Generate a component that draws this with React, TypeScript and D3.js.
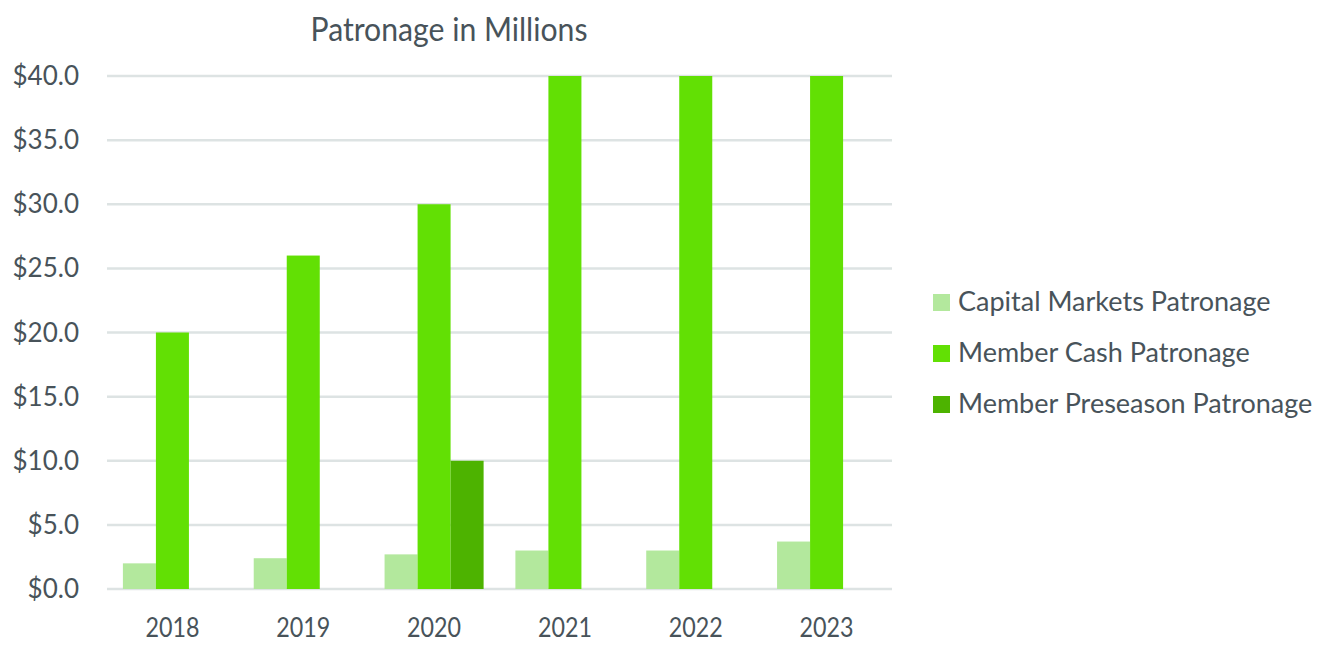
import React from "react";
import * as d3 from "d3";

const years = ["2018", "2019", "2020", "2021", "2022", "2023"];
const capitalMarkets = [2.0, 2.4, 2.7, 3.0, 3.0, 3.7];
const memberCash = [20, 26, 30, 40, 40, 40];
const memberPreseason = [0, 0, 10, 0, 0, 0];
const seriesNames = ["Capital Markets Patronage", "Member Cash Patronage", "Member Preseason Patronage"];
const seriesColors = ["#b3e89d", "#62e004", "#4db300"];
const yTicks = [0, 5, 10, 15, 20, 25, 30, 35, 40];

const W = 1329;
const H = 655;
const left = 107;
const right = 892;
const top = 76;
const bottom = 589;
const textColor = "#48535a";
const font = "Lato, 'Open Sans', sans-serif";

export default function App() {
  const x = d3.scaleBand<string>().domain(years).range([left, right]).paddingInner(0.243).paddingOuter(0.1215);
  const sub = d3.scaleBand<number>().domain([0, 1, 2]).range([0, x.bandwidth()]);
  const y = d3.scaleLinear().domain([0, 40]).range([bottom, top]);
  const all = [capitalMarkets, memberCash, memberPreseason];

  return (
    <svg width={W} height={H} style={{ position: "absolute", left: 0, top: 0, background: "#fff" }}>
      <text x={449} y={41} textAnchor="middle" fontFamily={font} fontSize={32} fill={textColor}
        textLength={277} lengthAdjust="spacingAndGlyphs">Patronage in Millions</text>
      {yTicks.map((t) => (
        <g key={t}>
          <line x1={left} x2={right} y1={y(t)} y2={y(t)} stroke="#dde3e3" strokeWidth={2.5} />
          <text x={79} y={y(t) + 9} textAnchor="end" fontFamily={font} fontSize={26} fill={textColor}>
            {"$" + t.toFixed(1)}
          </text>
        </g>
      ))}
      {years.map((yr, i) => (
        <g key={yr}>
          {all.map((s, k) =>
            s[i] > 0 ? (
              <rect key={k} x={(x(yr) as number) + (sub(k) as number)} y={y(s[i])} width={sub.bandwidth()}
                height={y(0) - y(s[i])} fill={seriesColors[k]} />
            ) : null
          )}
          <text x={(x(yr) as number) + x.bandwidth() / 2} y={637} textAnchor="middle" fontFamily={font}
            fontSize={26} fill={textColor} textLength={54} lengthAdjust="spacingAndGlyphs">{yr}</text>
        </g>
      ))}
      {seriesNames.map((n, k) => (
        <g key={n} transform={`translate(933, ${294 + k * 51})`}>
          <rect x={0} y={0} width={17} height={17} fill={seriesColors[k]} />
          <text x={25} y={17} fontFamily={font} fontSize={27} fill={textColor}>{n}</text>
        </g>
      ))}
    </svg>
  );
}
